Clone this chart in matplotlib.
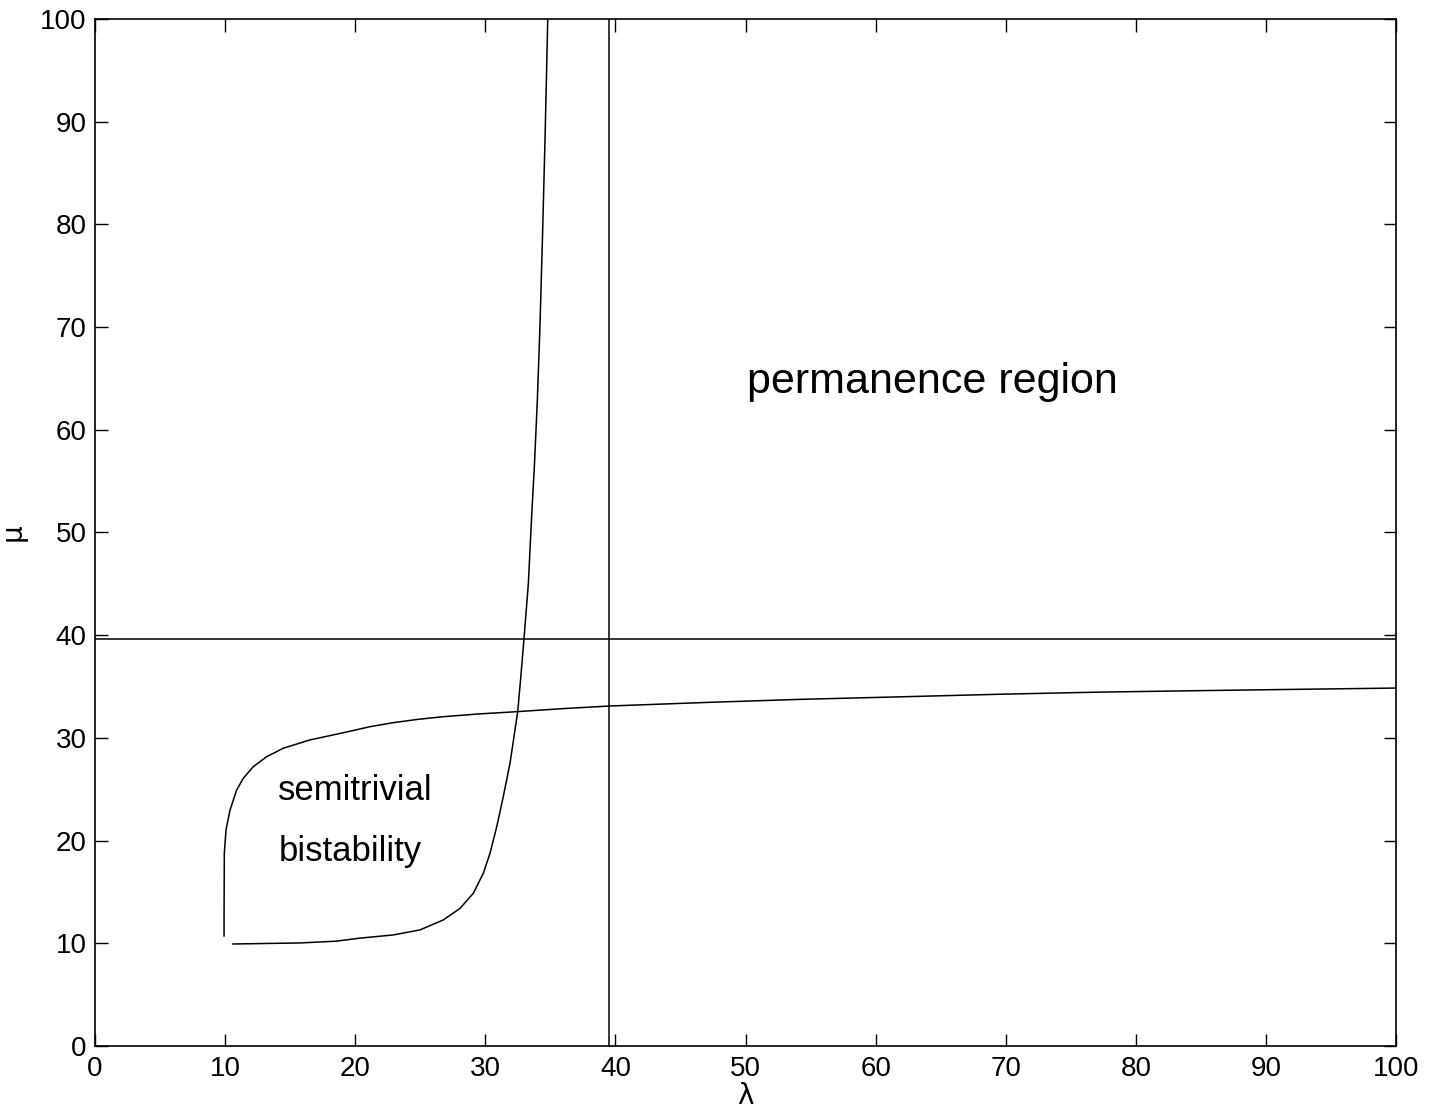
import matplotlib
matplotlib.use('Agg')
import matplotlib.pyplot as plt

# curve 1: lower boundary bending to the right
lam_a = [9.92, 9.92, 9.94, 10.07, 10.38, 10.89, 11.40, 12.17, 13.20, 14.47, 16.52,
         19.09, 21.14, 22.93, 24.8, 26.77, 29.5, 32.41, 36.0, 39.5, 47.0,
         54.2, 62.0, 69.6, 77.0, 85.0, 92.0, 100.0]
mu_a = [10.71, 12.2, 18.76, 21.03, 22.98, 24.93, 26.07, 27.2, 28.17, 28.99, 29.8,
        30.5, 31.09, 31.48, 31.8, 32.06, 32.33, 32.55, 32.85, 33.1, 33.45,
        33.75, 34.0, 34.25, 34.45, 34.6, 34.72, 34.85]

# curve 2: rises almost vertically near lambda = 33-35
lam_b = [10.6, 15.76, 18.5, 20.37, 22.93, 24.98, 26.77, 28.06, 29.08, 29.85, 30.36,
         30.88, 31.38, 31.9, 32.28, 32.49, 32.72, 32.97, 33.31, 33.56, 33.77,
         34.0, 34.2, 34.4, 34.6, 34.8]
mu_b = [9.93, 10.03, 10.2, 10.5, 10.81, 11.3, 12.27, 13.4, 14.87, 16.82, 18.76,
        21.35, 24.27, 27.53, 30.77, 32.55, 35.8, 39.6, 45.05, 51.54, 56.4,
        62.9, 70.0, 79.0, 88.8, 100.0]

lam_crit = 39.5
mu_crit = 39.6

xticks = list(range(0, 101, 10))
yticks = list(range(0, 101, 10))

plt.rcParams['font.family'] = ['Liberation Sans', 'DejaVu Sans']

fig = plt.figure(figsize=(14.37, 11.17), dpi=100)
ax = fig.add_axes([0.0661, 0.0636, 0.9054, 0.9194])

lw = 1.1
ax.plot(lam_a, mu_a, color='black', lw=lw)
ax.plot(lam_b, mu_b, color='black', lw=lw)
ax.axvline(lam_crit, color='black', lw=lw)
ax.axhline(mu_crit, color='black', lw=lw)

ax.text(14.1, 24.9, 'semitrivial', fontsize=25, va='center', ha='left')
ax.text(14.1, 18.9, 'bistability', fontsize=25, va='center', ha='left')
ax.text(50.1, 64.7, 'permanence region', fontsize=31, va='center', ha='left')

ax.set_xlim(0, 100)
ax.set_ylim(0, 100)
ax.set_xticks(xticks)
ax.set_yticks(yticks)
ax.tick_params(direction='in', length=9, width=1, top=True, right=True,
               labelsize=20)
ax.tick_params(axis='x', pad=7)
ax.tick_params(axis='y', pad=6)
for s in ax.spines.values():
    s.set_linewidth(1.2)

ax.set_xlabel('λ', fontsize=20, family='DejaVu Sans', labelpad=0)
ax.set_ylabel('μ', fontsize=20, family='DejaVu Sans', labelpad=10)

fig.savefig('out.png', dpi=100)
